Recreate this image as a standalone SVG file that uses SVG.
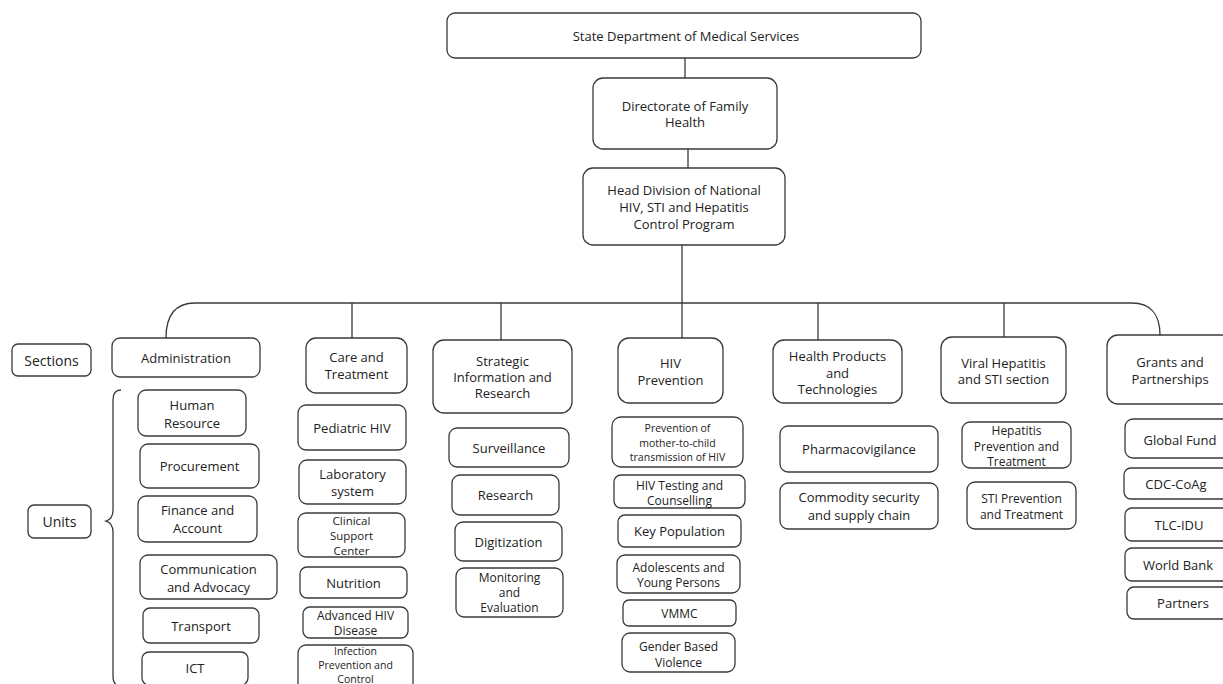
<svg xmlns="http://www.w3.org/2000/svg" width="1223" height="684" viewBox="0 0 1223 684">
<style>
.b{fill:#fff;stroke:#3a3a3a;stroke-width:1.3}
.c{fill:none;stroke:#3a3a3a;stroke-width:1.3}
text{font-family:"Open Sans","Liberation Sans",sans-serif;font-size:13px;fill:#222;text-anchor:middle;dominant-baseline:central}
.s12{font-size:12px}.s11{font-size:11.5px}.s10{font-size:10.5px}.s14{font-size:14px}
</style>
<rect width="1223" height="684" fill="#fff"/>
<g id="connectors">
<path class="c" d="M685,58V78M688,149V168M682,245V338"/>
<path class="c" d="M166,338C166,316 174,303 195,303H1132C1150,303 1160,314 1160,335"/>
<path class="c" d="M352,303V338M501,303V340M818,303V340M1004,303V337"/>
<path class="c" d="M121,390Q113,390 113,400V510Q113,519 106,521Q113,523 113,532V676Q113,686 121,686"/>
</g>
<g id="n-top"><rect class="b" x="447" y="13" width="474" height="45" rx="8"/><text x="686" y="35.5" font-size="12.5">State Department of Medical Services</text></g>
<g id="n-dir"><rect class="b" x="593" y="78" width="184" height="71" rx="10"/><text x="685" y="106" font-size="12.5">Directorate of Family</text><text x="685" y="122" font-size="12.5">Health</text></g>
<g id="n-head"><rect class="b" x="583" y="168" width="202" height="77" rx="10"/><text x="684" y="190" font-size="12.5">Head Division of National</text><text x="684" y="207" font-size="12.5">HIV, STI and Hepatitis</text><text x="684" y="224" font-size="12.5">Control Program</text></g>
<g id="n-sections"><rect class="b" x="12" y="344" width="79" height="32" rx="6"/><text class="s14" x="51.5" y="360">Sections</text></g>
<g id="n-units"><rect class="b" x="28" y="505" width="63" height="33" rx="6"/><text class="s14" x="59.5" y="521">Units</text></g>
<g id="n-admin"><rect class="b" x="112" y="338" width="148" height="39" rx="8"/><text x="186" y="357.5" font-size="15">Administration</text></g>
<g id="n-hr"><rect class="b" x="138" y="390" width="108" height="46" rx="8"/><text x="192" y="405">Human</text><text x="192" y="423">Resource</text></g>
<g id="n-proc"><rect class="b" x="140" y="444" width="119" height="44" rx="8"/><text x="199.5" y="466">Procurement</text></g>
<g id="n-fin"><rect class="b" x="138" y="496" width="119" height="46" rx="8"/><text x="197.5" y="510">Finance and</text><text x="197.5" y="528">Account</text></g>
<g id="n-comm"><rect class="b" x="140" y="555" width="137" height="44" rx="8"/><text x="208.5" y="569">Communication</text><text x="208.5" y="587">and Advocacy</text></g>
<g id="n-transport"><rect class="b" x="143" y="608" width="116" height="35" rx="7"/><text x="201" y="626">Transport</text></g>
<g id="n-ict"><rect class="b" x="142" y="652" width="106" height="33" rx="7"/><text x="195" y="668">ICT</text></g>
<g id="n-care"><rect class="b" x="306" y="338" width="101" height="55" rx="10"/><text x="356.5" y="357">Care and</text><text x="356.5" y="374">Treatment</text></g>
<g id="n-ped"><rect class="b" x="298" y="405" width="108" height="45" rx="8"/><text x="352" y="428">Pediatric HIV</text></g>
<g id="n-lab"><rect class="b" x="299" y="460" width="107" height="44" rx="8"/><text x="352.5" y="474">Laboratory</text><text x="352.5" y="491">system</text></g>
<g id="n-clin"><rect class="b" x="298" y="513" width="107" height="44" rx="8"/><text class="s11" x="351.5" y="520">Clinical</text><text class="s11" x="351.5" y="535">Support</text><text class="s11" x="351.5" y="550">Center</text></g>
<g id="n-nut"><rect class="b" x="300" y="567" width="107" height="31" rx="7"/><text x="353.5" y="583">Nutrition</text></g>
<g id="n-adv"><rect class="b" x="303" y="607" width="105" height="31" rx="7"/><text class="s12" x="355.5" y="615">Advanced HIV</text><text class="s12" x="355.5" y="630">Disease</text></g>
<g id="n-inf"><rect class="b" x="298" y="645" width="115" height="48" rx="8"/><text class="s10" x="355.5" y="651">Infection</text><text class="s10" x="355.5" y="665">Prevention and</text><text class="s10" x="355.5" y="679">Control</text></g>
<g id="n-strat"><rect class="b" x="433" y="340" width="139" height="73" rx="11"/><text x="502.5" y="361">Strategic</text><text x="502.5" y="377">Information and</text><text x="502.5" y="393">Research</text></g>
<g id="n-surv"><rect class="b" x="449" y="428" width="120" height="39" rx="8"/><text x="509" y="448">Surveillance</text></g>
<g id="n-res"><rect class="b" x="452" y="475" width="107" height="40" rx="8"/><text x="505.5" y="495">Research</text></g>
<g id="n-dig"><rect class="b" x="455" y="522" width="107" height="39" rx="8"/><text x="508.5" y="542">Digitization</text></g>
<g id="n-me"><rect class="b" x="456" y="568" width="107" height="49" rx="8"/><text class="s12" x="509.5" y="577">Monitoring</text><text class="s12" x="509.5" y="592">and</text><text class="s12" x="509.5" y="607">Evaluation</text></g>
<g id="n-hivp"><rect class="b" x="618" y="338" width="105" height="65" rx="11"/><text x="670.5" y="363">HIV</text><text x="670.5" y="380">Prevention</text></g>
<g id="n-pmtct"><rect class="b" x="612" y="417" width="131" height="50" rx="9"/><text class="s10" x="677.5" y="428">Prevention of</text><text class="s10" x="677.5" y="443">mother-to-child</text><text class="s10" x="677.5" y="457">transmission of HIV</text></g>
<g id="n-hts"><rect class="b" x="614" y="475" width="131" height="33" rx="7"/><text class="s12" x="679.5" y="485">HIV Testing and</text><text class="s12" x="679.5" y="500">Counselling</text></g>
<g id="n-kp"><rect class="b" x="618" y="515" width="123" height="32" rx="7"/><text x="679.5" y="531">Key Population</text></g>
<g id="n-ado"><rect class="b" x="617" y="555" width="123" height="38" rx="8"/><text class="s12" x="678.5" y="567">Adolescents and</text><text class="s12" x="678.5" y="582">Young Persons</text></g>
<g id="n-vmmc"><rect class="b" x="623" y="600" width="113" height="26" rx="6"/><text class="s12" x="679.5" y="613">VMMC</text></g>
<g id="n-gbv"><rect class="b" x="622" y="633" width="113" height="39" rx="8"/><text class="s12" x="678.5" y="646">Gender Based</text><text class="s12" x="678.5" y="662">Violence</text></g>
<g id="n-hpt"><rect class="b" x="773" y="340" width="129" height="63" rx="11"/><text x="837.5" y="356">Health Products</text><text x="837.5" y="373">and</text><text x="837.5" y="389">Technologies</text></g>
<g id="n-pv"><rect class="b" x="780" y="426" width="158" height="46" rx="8"/><text x="859" y="449">Pharmacovigilance</text></g>
<g id="n-comsec"><rect class="b" x="780" y="483" width="158" height="46" rx="8"/><text x="859" y="497">Commodity security</text><text x="859" y="515">and supply chain</text></g>
<g id="n-viral"><rect class="b" x="941" y="337" width="125" height="66" rx="11"/><text x="1003.5" y="363">Viral Hepatitis</text><text x="1003.5" y="379">and STI section</text></g>
<g id="n-hep"><rect class="b" x="962" y="422" width="109" height="46" rx="8"/><text class="s12" x="1016.5" y="430">Hepatitis</text><text class="s12" x="1016.5" y="446">Prevention and</text><text class="s12" x="1016.5" y="461">Treatment</text></g>
<g id="n-sti"><rect class="b" x="967" y="482" width="109" height="47" rx="8"/><text class="s12" x="1021.5" y="498">STI Prevention</text><text class="s12" x="1021.5" y="514">and Treatment</text></g>
<g id="n-grants"><rect class="b" x="1107" y="335" width="126" height="69" rx="11"/><text x="1170" y="362">Grants and</text><text x="1170" y="379">Partnerships</text></g>
<g id="n-gf"><rect class="b" x="1125" y="419" width="110" height="39" rx="8"/><text x="1180" y="440">Global Fund</text></g>
<g id="n-cdc"><rect class="b" x="1124" y="468" width="110" height="31" rx="7"/><text x="1176" y="484">CDC-CoAg</text></g>
<g id="n-tlc"><rect class="b" x="1125" y="508" width="110" height="33" rx="7"/><text x="1179" y="525">TLC-IDU</text></g>
<g id="n-wb"><rect class="b" x="1125" y="548" width="110" height="33" rx="7"/><text x="1178" y="565">World Bank</text></g>
<g id="n-partners"><rect class="b" x="1127" y="587" width="110" height="32" rx="7"/><text x="1183" y="603">Partners</text></g>
</svg>
